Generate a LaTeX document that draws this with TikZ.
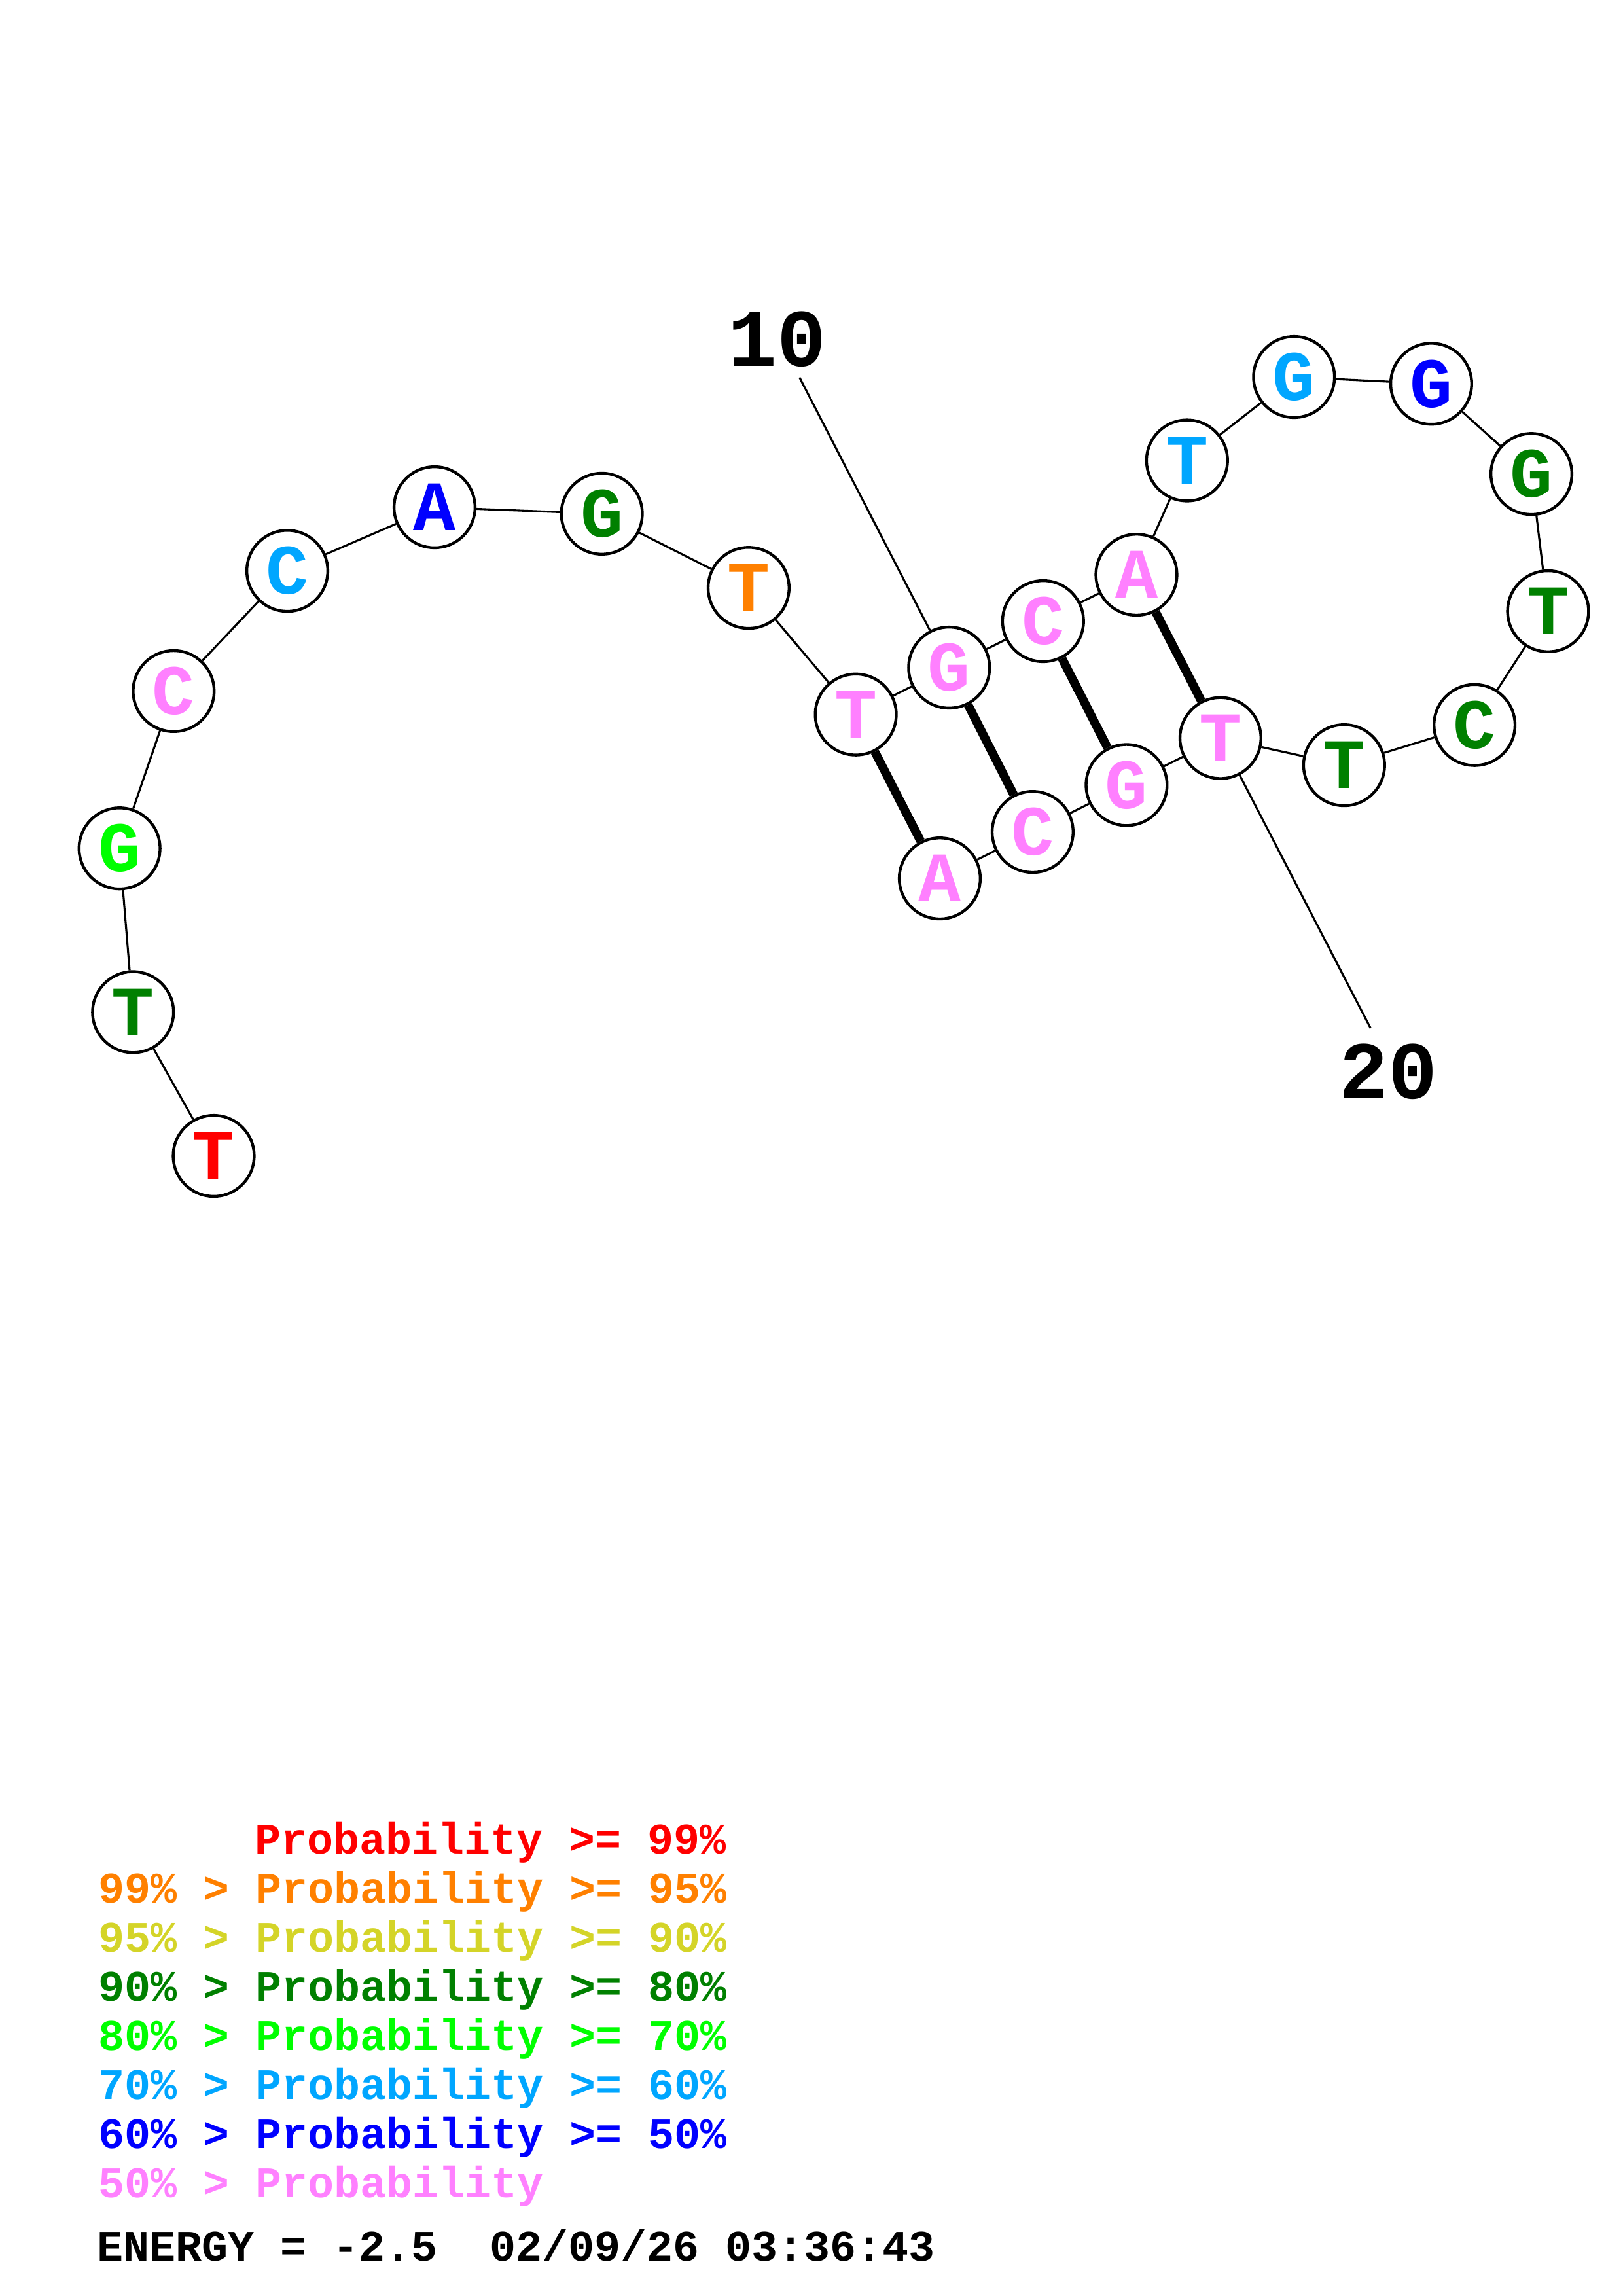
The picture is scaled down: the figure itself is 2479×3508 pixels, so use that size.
\documentclass[tikz,border=0pt]{standalone}
\usepackage{fontspec}
\setmonofont{Liberation Mono}
\usetikzlibrary{positioning}
\definecolor{rd}{RGB}{255,0,0}
\definecolor{og}{RGB}{255,128,0}
\definecolor{yl}{RGB}{212,212,40}
\definecolor{dg}{RGB}{0,128,0}
\definecolor{lg}{RGB}{0,255,0}
\definecolor{lb}{RGB}{0,166,255}
\definecolor{bl}{RGB}{0,0,255}
\definecolor{pk}{RGB}{255,128,255}
\tikzset{nuc/.style={circle,draw,line width=1.05bp,fill=white,minimum size=29.7bp,inner sep=0pt,
                     font=\fontsize{26bp}{26bp}\ttfamily\bfseries},
         bb/.style={line width=0.75bp},
         pairline/.style={line width=3.2bp},
         num/.style={inner sep=0pt,font=\fontsize{30bp}{30bp}\ttfamily\bfseries},
         legend/.style={anchor=base west,inner sep=0pt,font=\fontsize{16bp}{18bp}\ttfamily\bfseries},
        }

\begin{document}
\begin{tikzpicture}[x=0.24bp,y=-0.24bp]
        \useasboundingbox(0,0)rectangle(2479,3508);
        \node[nuc,text=rd](n1)at(326.5,1766.0){T};
        \node[nuc,text=dg](n2)at(203.3,1546.4){T};
        \node[nuc,text=lg](n3)at(182.7,1296.2){G};
        \node[nuc,text=pk](n4)at(265.3,1055.9){C};
        \node[nuc,text=lb](n5)at(439.0,872.2){C};
        \node[nuc,text=bl](n6)at(664.0,775.0){A};
        \node[nuc,text=dg](n7)at(919.6,784.9){G};
        \node[nuc,text=og](n8)at(1143.9,898.2){T};
        \node[nuc,text=pk](n9)at(1307.6,1091.7){T};
        \node[nuc,text=pk](n10)at(1450.3,1020.0){G};
        \node[nuc,text=pk](n11)at(1593.8,949.0){C};
        \node[nuc,text=pk](n12)at(1736.5,878.1){A};
        \node[nuc,text=lb](n13)at(1813.8,703.5){T};
        \node[nuc,text=lb](n14)at(1977.3,576.0){G};
        \node[nuc,text=bl](n15)at(2186.9,586.3){G};
        \node[nuc,text=dg](n16)at(2340.0,724.2){G};
        \node[nuc,text=dg](n17)at(2365.5,933.9){T};
        \node[nuc,text=dg](n18)at(2253.1,1107.7){C};
        \node[nuc,text=dg](n19)at(2053.8,1169.1){T};
        \node[nuc,text=pk](n20)at(1864.9,1127.6){T};
        \node[nuc,text=pk](n21)at(1721.4,1199.4){G};
        \node[nuc,text=pk](n22)at(1577.9,1271.1){C};
        \node[nuc,text=pk](n23)at(1436.0,1342.1){A};

        \draw[bb](n1)--(n2)--(n3)--(n4)--(n5)--(n6)--(n7)--(n8)--(n9)--(n10)--(n11)--(n12);
        \draw[bb](n12)--(n13)--(n14)--(n15)--(n16)--(n17)--(n18)--(n19)--(n20)--(n21)--(n22)--(n23);

        \draw[pairline](n9)--(n23);
        \draw[pairline](n10)--(n22);
        \draw[pairline](n11)--(n21);
        \draw[pairline](n12)--(n20);

        \node[num](lab10)at(1188,518.5){10};
        \coordinate(c10)at(1221.7,576.7);
        \draw[bb](c10)--(n10);
        \node[num](lab20)at(2121.5,1637.5){20};
        \coordinate(c20)at(2094.3,1571.0);
        \draw[bb](c20)--(n20);

        \node[legend,text=rd](leg1)at(389,2832.5){Probability >= 99\%};
        \node[legend,text=og](leg2)at(150,2907.5){99\% > Probability >= 95\%};
        \node[legend,text=yl](leg3)at(150,2982.5){95\% > Probability >= 90\%};
        \node[legend,text=dg](leg4)at(150,3057.5){90\% > Probability >= 80\%};
        \node[legend,text=lg](leg5)at(150,3132.5){80\% > Probability >= 70\%};
        \node[legend,text=lb](leg6)at(150,3207.5){70\% > Probability >= 60\%};
        \node[legend,text=bl](leg7)at(150,3282.5){60\% > Probability >= 50\%};
        \node[legend,text=pk](leg8)at(150,3357.5){50\% > Probability};
        \node[legend,text=black](energy)at(148,3454){ENERGY = -2.5\ \ 02/09/26 03:36:43};
    \end{tikzpicture}
\end{document}
